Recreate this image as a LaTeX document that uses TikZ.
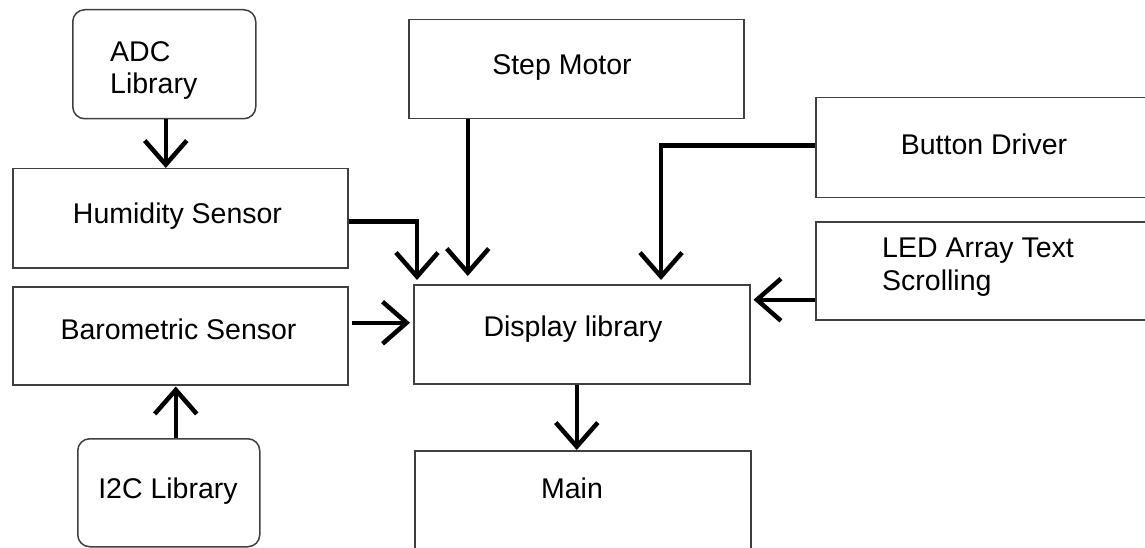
\documentclass[tikz,border=0pt]{standalone}
\usepackage{fontspec}
\setmainfont{Liberation Sans}
\usetikzlibrary{arrows.meta}
\tikzset{
  box/.style={draw=black!75, line width=1.5pt, rectangle, anchor=north west, inner sep=0pt, fill=white},
  rbox/.style={box, rounded corners=12pt},
  lbl/.style={font=\fontsize{28.5}{32}\selectfont, inner sep=0pt, text=black},
  arr/.style={line width=4.5pt, -{Straight Barb[length=24pt,width=42pt]}, line join=miter},
}
\begin{document}
\begin{tikzpicture}[x=1pt,y=-1pt]
\useasboundingbox (0,0) rectangle (1145,548);
\clip (0,0) rectangle (1145,548);
% boxes
\node[rbox, minimum width=183pt, minimum height=109pt] (adc) at (72,9) {};
\node[box, minimum width=335pt, minimum height=99pt] (step) at (408,19) {};
\node[box, minimum width=335pt, minimum height=99pt] (hum) at (12,168) {};
\node[box, minimum width=335pt, minimum height=98pt] (baro) at (12,286) {};
\node[rbox, minimum width=182pt, minimum height=108pt] (i2c) at (77,438) {};
\node[box, minimum width=336pt, minimum height=99pt] (disp) at (413,284) {};
\node[box, minimum width=336pt, minimum height=130pt] (main) at (414,450) {};
\node[box, minimum width=345pt, minimum height=100pt] (btn) at (815,97) {};
\node[box, minimum width=345pt, minimum height=98pt] (led) at (815,221) {};
% texts
\node[lbl, anchor=base west] (adct1) at (110,62) {ADC};
\node[lbl, anchor=base west] (adct2) at (110,94) {Library};
\node[lbl, anchor=base] (stept) at (562,75) {Step Motor};
\node[lbl, anchor=base] (humt) at (177.5,223) {Humidity Sensor};
\node[lbl, anchor=base] (barot) at (178.5,339) {Barometric Sensor};
\node[lbl, anchor=base] (i2ct) at (168,498) {I2C Library};
\node[lbl, anchor=base] (dispt) at (573,336) {Display library};
\node[lbl, anchor=base] (maint) at (572,498) {Main};
\node[lbl, anchor=base] (btnt) at (984,155) {Button Driver};
\node[lbl, anchor=base west] (ledt1) at (882,257) {LED Array Text};
\node[lbl, anchor=base west] (ledt2) at (882,290) {Scrolling};
% helper coordinates
\coordinate (adcs) at ([xshift=1.5pt]adc.south);
\coordinate (hums) at ([yshift=-3pt]hum.east);
\coordinate (stps) at ([xshift=-108.5pt]step.south);
\coordinate (btns) at ([yshift=2pt]btn.west);
\coordinate (dtop) at ([xshift=248pt]disp.north west);
\coordinate (dtl) at ([xshift=4pt]disp.north west);
\coordinate (leds) at ([yshift=-29pt]led.west);
\coordinate (baros) at ([xshift=3pt,yshift=13pt]baro.east);
\coordinate (i2cs) at ([xshift=7pt]i2c.north);
\coordinate (disps) at ([xshift=-5pt]disp.south);
% connectors
\draw[arr] (adcs) -- (adcs |- hum.north);
\draw[arr, shorten >=4pt] (hums) -| (dtl);
\draw[arr, shorten >=8pt] (stps) -- (stps |- disp.north);
\draw[arr, shorten >=4pt] (btns) -| (dtop);
\draw[arr, shorten >=3pt] (leds) -- (leds -| disp.east);
\draw[arr, shorten >=3pt] (baros) -- (baros -| disp.west);
\draw[arr, shorten >=1pt] (i2cs) -- (i2cs |- baro.south);
\draw[arr] (disps) -- (disps |- main.north);
\end{tikzpicture}
\end{document}
